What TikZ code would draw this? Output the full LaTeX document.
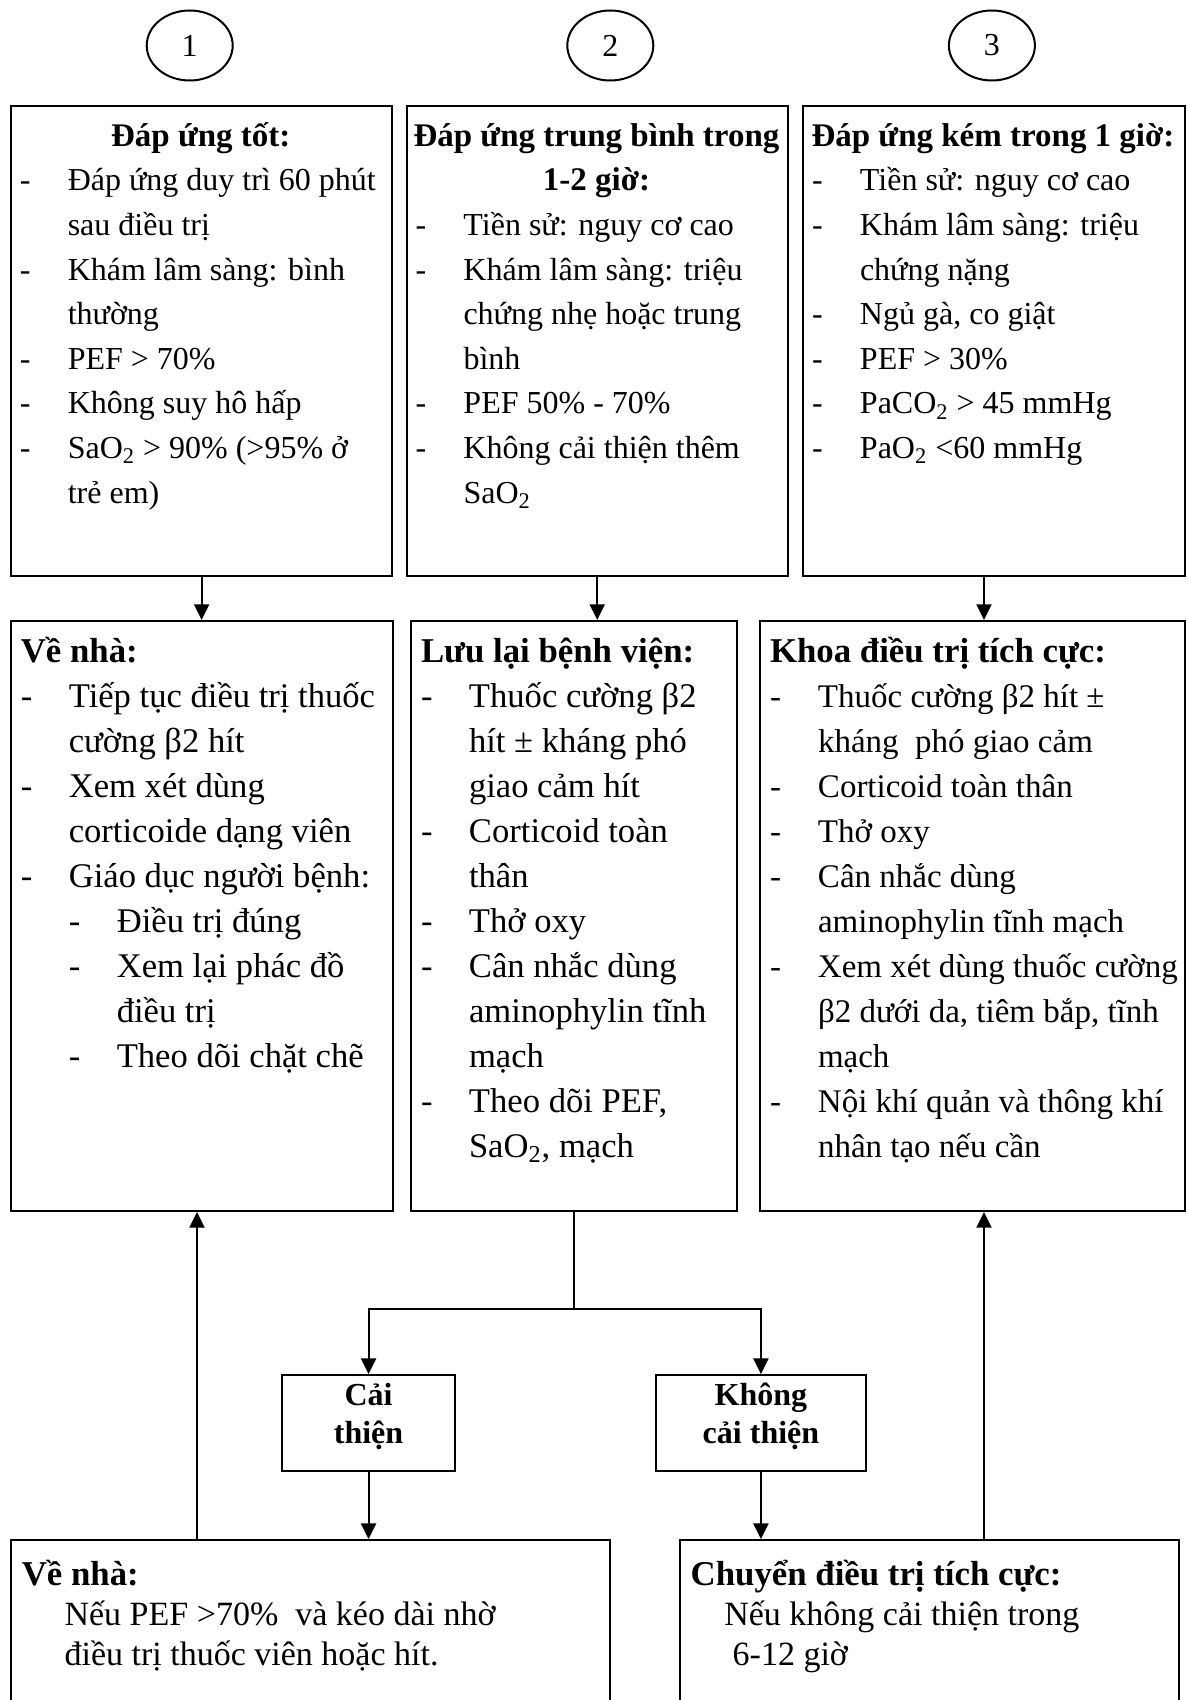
\documentclass[tikz,border=0pt]{standalone}
\usepackage{fontspec}
\setmainfont{Liberation Serif}
\usetikzlibrary{arrows.meta,shapes.geometric,fit}

\newcommand{\tiret}{\makebox[24pt][l]{-}}
\newcommand{\suite}{\hspace*{24pt}}
\newcommand{\tete}[1]{\makebox[181pt][c]{\fontsize{16.5}{22.3}\selectfont\bfseries #1}}
\newcommand{\titre}[1]{{\fontsize{17.4}{22.5}\selectfont\bfseries #1}}

\begin{document}
\begin{tikzpicture}[x=0.5pt, y=-0.5pt, line width=1pt,
  >={Triangle[length=7.8pt,width=7.5pt]},
  cadre/.style={draw, inner sep=0pt},
  rond/.style={draw, ellipse, minimum width=43pt, minimum height=35pt, inner sep=0pt,
    font=\fontsize{16}{20}\selectfont},
  texte/.style={anchor=north west, align=left, outer sep=0pt, inner ysep=#1},
  haut/.style={texte=4.9pt, inner xsep=5pt, font=\fontsize{16}{22.3}\selectfont},
  milieu/.style={texte=5.3pt, inner xsep=5.5pt, font=\fontsize{#1}{22.5}\selectfont},
  bas/.style={texte=9pt, inner xsep=6pt, font=\fontsize{17}{20}\selectfont},
  choix/.style={anchor=north, align=center, outer sep=0pt, inner ysep=2.7pt,
    font=\fontsize{16}{18.8}\selectfont\bfseries}]

 \useasboundingbox (0,0) rectangle (1187,1700);

 %%%%%%%%%% Colonnes des fleches %%%%%%%%%%
 \coordinate (col1) at (197,0);
 \coordinate (col3) at (984,0);

 %%%%%%%%%% Numeros %%%%%%%%%%
 \node[rond] (n1) at (189.7,45.5) {1};
 \node[rond] (n2) at (610.3,45.5) {2};
 \node[rond] (n3) at (991.9,45.5) {3};

 %%%%%%%%%% Reponse au traitement %%%%%%%%%%
 \node[cadre, fit={(10.8,106.2) (392.4,575.6)}] (a1) {};
 \node[haut] (a1t) at (a1.north west) {\strut\tete{Đáp ứng tốt:}\\
  \tiret Đáp ứng duy trì 60 phút\\
  \suite sau điều trị\\
  \tiret Khám lâm sàng: bình\\
  \suite thường\\
  \tiret PEF > 70\%\\
  \tiret Không suy hô hấp\\
  \tiret SaO\textsubscript{2} > 90\% (>95\% ở\\
  \suite trẻ em)};

 \node[cadre, fit={(406.5,106.2) (788,575.6)}] (a2) {};
 \node[haut] (a2t) at (a2.north west) {\strut\tete{Đáp ứng trung bình trong}\\
  \tete{1-2 giờ:}\\
  \tiret Tiền sử: nguy cơ cao\\
  \tiret Khám lâm sàng: triệu\\
  \suite chứng nhẹ hoặc trung\\
  \suite bình\\
  \tiret PEF 50\% - 70\%\\
  \tiret Không cải thiện thêm\\
  \suite SaO\textsubscript{2}};

 \node[cadre, fit={(803,106.2) (1185,575.6)}] (a3) {};
 \node[haut] (a3t) at (a3.north west) {\strut\tete{Đáp ứng kém trong 1 giờ:}\\
  \tiret Tiền sử: nguy cơ cao\\
  \tiret Khám lâm sàng: triệu\\
  \suite chứng nặng\\
  \tiret Ngủ gà, co giật\\
  \tiret PEF > 30\%\\
  \tiret PaCO\textsubscript{2} > 45 mmHg\\
  \tiret PaO\textsubscript{2} <60 mmHg};

 %%%%%%%%%% Prise en charge %%%%%%%%%%
 \node[cadre, fit={(10.8,621) (393,1211)}] (b1) {};
 \node[milieu=17.3] (b1t) at (b1.north west) {\strut\titre{Về nhà:}\\
  \tiret Tiếp tục điều trị thuốc\\
  \suite cường β2 hít\\
  \tiret Xem xét dùng\\
  \suite corticoide dạng viên\\
  \tiret Giáo dục người bệnh:\\
  \suite\tiret Điều trị đúng\\
  \suite\tiret Xem lại phác đồ\\
  \suite\suite điều trị\\
  \suite\tiret Theo dõi chặt chẽ};

 \node[cadre, fit={(411,621) (737,1211)}] (b2) {};
 \node[milieu=17.3] (b2t) at (b2.north west) {\strut\titre{Lưu lại bệnh viện:}\\
  \tiret Thuốc cường β2\\
  \suite hít ± kháng phó\\
  \suite giao cảm hít\\
  \tiret Corticoid toàn\\
  \suite thân\\
  \tiret Thở oxy\\
  \tiret Cân nhắc dùng\\
  \suite aminophylin tĩnh\\
  \suite mạch\\
  \tiret Theo dõi PEF,\\
  \suite SaO\textsubscript{2}, mạch};

 \node[cadre, fit={(760,621) (1185,1211)}] (b3) {};
 \node[milieu=16.5] (b3t) at (b3.north west) {\strut\titre{Khoa điều trị tích cực:}\\
  \tiret Thuốc cường β2 hít ±\\
  \suite kháng\ \ phó giao cảm\\
  \tiret Corticoid toàn thân\\
  \tiret Thở oxy\\
  \tiret Cân nhắc dùng\\
  \suite aminophylin tĩnh mạch\\
  \tiret Xem xét dùng thuốc cường\\
  \suite β2 dưới da, tiêm bắp, tĩnh\\
  \suite mạch\\
  \tiret Nội khí quản và thông khí\\
  \suite nhân tạo nếu cần};

 %%%%%%%%%% Evolution %%%%%%%%%%
 \node[cadre, fit={(281.8,1375) (455.3,1471)}] (ci) {};
 \node[choix] (cit) at (ci.north) {\strut Cải\\thiện};
 \node[cadre, fit={(655.8,1375) (866.1,1471)}] (kc) {};
 \node[choix] (kct) at (kc.north) {\strut Không\\cải thiện};

 \node[cadre, fit={(10.8,1540) (610.3,1702)}] (c1) {};
 \node[bas] (c1t) at (c1.north west) {\strut\titre{Về nhà:}\\
  \hspace*{21.4pt}Nếu PEF >70\%\ \ và kéo dài nhờ\\
  \hspace*{21.4pt}điều trị thuốc viên hoặc hít.};

 \node[cadre, fit={(679.7,1540) (1179.4,1702)}] (c2) {};
 \node[bas] (c2t) at (c2.north west) {\strut\titre{Chuyển điều trị tích cực:}\\
  \hspace*{16.8pt}Nếu không cải thiện trong\\
  \hspace*{21pt}6-12 giờ};

 %%%%%%%%%% Fleches %%%%%%%%%%
 \draw[->] (a1.south) -- (a1.south |- b1.north);
 \draw[->] (a2.south) -- (a2.south |- b2.north);
 \draw[->] (a3.south -| col3) -- (b3.north -| col3);

 \draw (b2.south) -- ++(0,97.4) coordinate (split);
 \draw[->] (split) -| (ci.north);
 \draw[->] (split) -| (kc.north);
 \draw[->] (ci.south) -- (ci.south |- c1.north);
 \draw[->] (kc.south) -- (kc.south |- c2.north);

 % Retours
 \draw[->] (c1.north -| col1) -- (b1.south -| col1);
 \draw[->] (c2.north -| col3) -- (b3.south -| col3);

\end{tikzpicture}
\end{document}
